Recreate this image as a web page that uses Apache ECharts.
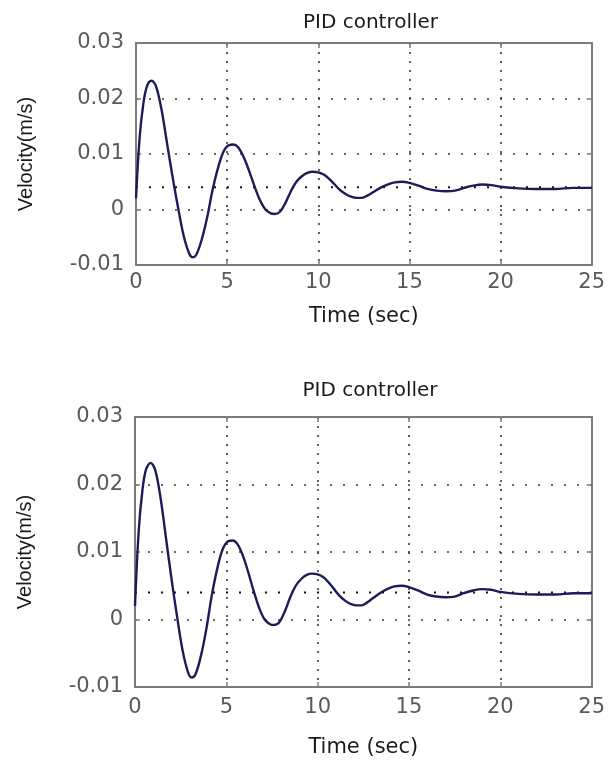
<!DOCTYPE html>
<html><head><meta charset="utf-8">
<script src="https://cdn.jsdelivr.net/npm/echarts@6/dist/echarts.min.js"></script>
<style>html,body{margin:0;padding:0;background:#fff}#c{width:608px;height:766px}</style>
</head><body><div id="c"></div>
<script>
// ---- data ----
const chartTitle = 'PID controller';
const xAxisName = 'Time (sec)';
const yAxisName = 'Velocity(m/s)';
const xMin = 0, xMax = 25, xStep = 5;
const yMin = -0.01, yMax = 0.03, yStep = 0.01;
const timeSec = [0, 0.2, 0.4, 0.6, 0.85, 1.1, 1.4, 1.7, 2.0, 2.3, 2.6, 2.9, 3.1, 3.3, 3.6, 3.9, 4.2, 4.5, 4.8, 5.1, 5.35, 5.6, 5.9, 6.2, 6.5, 6.8, 7.1, 7.4, 7.6, 7.9, 8.2, 8.5, 8.8, 9.1, 9.4, 9.7, 10.0, 10.3, 10.6, 10.9, 11.2, 11.5, 11.8, 12.1, 12.4, 12.7, 13.0, 13.4, 13.8, 14.2, 14.6, 15.0, 15.5, 16.0, 16.5, 17.0, 17.5, 18.0, 18.5, 19.0, 19.5, 20.0, 21.0, 22.0, 23.0, 24.0, 25.0];
const velocity = [0.002, 0.013, 0.019, 0.0222, 0.0232, 0.0222, 0.018, 0.012, 0.006, 0.0005, -0.0045, -0.0078, -0.0086, -0.0082, -0.0055, -0.0015, 0.0035, 0.0075, 0.0104, 0.0116, 0.0117, 0.0112, 0.0095, 0.007, 0.0042, 0.0017, 0.0, -0.0007, -0.0008, -0.0004, 0.0012, 0.0033, 0.005, 0.006, 0.0066, 0.0068, 0.0067, 0.0063, 0.0055, 0.0045, 0.0035, 0.0028, 0.0023, 0.0021, 0.0021, 0.0025, 0.0031, 0.0039, 0.0045, 0.0049, 0.0050, 0.0048, 0.0043, 0.0037, 0.0034, 0.0033, 0.0034, 0.0039, 0.0043, 0.0045, 0.0044, 0.0041, 0.0038, 0.0037, 0.0037, 0.0039, 0.0039];
const refTime = [0, 25];
const refVelocity = [0.004, 0.004];

// ---- chart ----
const curve = timeSec.map((t, i) => [t, velocity[i]]);
const refLine = refTime.map((t, i) => [t, refVelocity[i]]);

const panels = [
  {left: 136, top: 43, width: 459, height: 222, titleTop: 8, labelMargin: 7, nameGap: 41},
  {left: 135, top: 417, width: 460, height: 270, titleTop: 376, labelMargin: 10, nameGap: 50}
];
const boxColor = '#7c7c7c';
const tickFont = {fontFamily: 'DejaVu Sans', fontSize: 21, color: '#5a5a5a'};
const grids = [], xAxes = [], yAxes = [], titles = [], series = [];
const fmtY = v => Math.abs(v) < 1e-9 ? '0' : v.toFixed(2);

panels.forEach((p, k) => {
  grids.push({left: p.left, top: p.top, width: p.width, height: p.height, containLabel: false});
  titles.push({text: chartTitle, left: p.left + p.width / 2, top: p.titleTop, textAlign: 'center',
    textStyle: {fontFamily: 'DejaVu Sans', fontSize: 20, fontWeight: 'normal', color: '#1a1a1a'}});
  const axLine = {show: true, onZero: false, lineStyle: {color: boxColor, width: 2}};
  const axTick = {show: true, inside: true, length: 5, lineStyle: {color: boxColor, width: 1.5}};
  xAxes.push({type: 'value', gridIndex: k, position: 'bottom', min: xMin, max: xMax, interval: xStep,
    axisLine: axLine, axisTick: axTick,
    axisLabel: Object.assign({margin: p.labelMargin, showMinLabel: true, showMaxLabel: true}, tickFont),
    splitLine: {show: true, lineStyle: {color: '#3a3a3a', width: 1.6, type: [2, 7]}},
    name: xAxisName, nameLocation: 'middle', nameGap: p.nameGap,
    nameTextStyle: {fontFamily: 'DejaVu Sans', fontSize: 21, color: '#1a1a1a'}});
  xAxes.push({type: 'value', gridIndex: k, position: 'top', min: xMin, max: xMax, interval: xStep,
    axisLine: axLine, axisTick: axTick, axisLabel: {show: false}, splitLine: {show: false}});
  yAxes.push({type: 'value', gridIndex: k, position: 'left', min: yMin, max: yMax, interval: yStep,
    axisLine: axLine, axisTick: axTick,
    axisLabel: Object.assign({margin: 12, formatter: fmtY}, tickFont),
    splitLine: {show: true, lineStyle: {color: '#3a3a3a', width: 1.6, type: [2, 11]}},
    name: yAxisName, nameLocation: 'middle', nameGap: 100, nameRotate: 90,
    nameTextStyle: {fontFamily: 'Liberation Sans', fontSize: 20, color: '#1a1a1a'}});
  yAxes.push({type: 'value', gridIndex: k, position: 'right', min: yMin, max: yMax, interval: yStep,
    axisLine: axLine, axisTick: axTick, axisLabel: {show: false}, splitLine: {show: false}});
  series.push({type: 'line', xAxisIndex: 2 * k, yAxisIndex: 2 * k, data: refLine, symbol: 'none',
    silent: true, z: 2, lineStyle: {color: '#111', width: 2, type: [2, 11]}});
  series.push({type: 'line', xAxisIndex: 2 * k, yAxisIndex: 2 * k, data: curve, symbol: 'none',
    smooth: 0.35, z: 3, lineStyle: {color: '#1c1c58', width: 2.4}});
});

const chart = echarts.init(document.getElementById('c'), null, {renderer: 'canvas'});
chart.setOption({
  backgroundColor: '#ffffff',
  animation: false,
  title: titles,
  grid: grids,
  xAxis: xAxes,
  yAxis: yAxes,
  series: series
});
</script></body></html>
